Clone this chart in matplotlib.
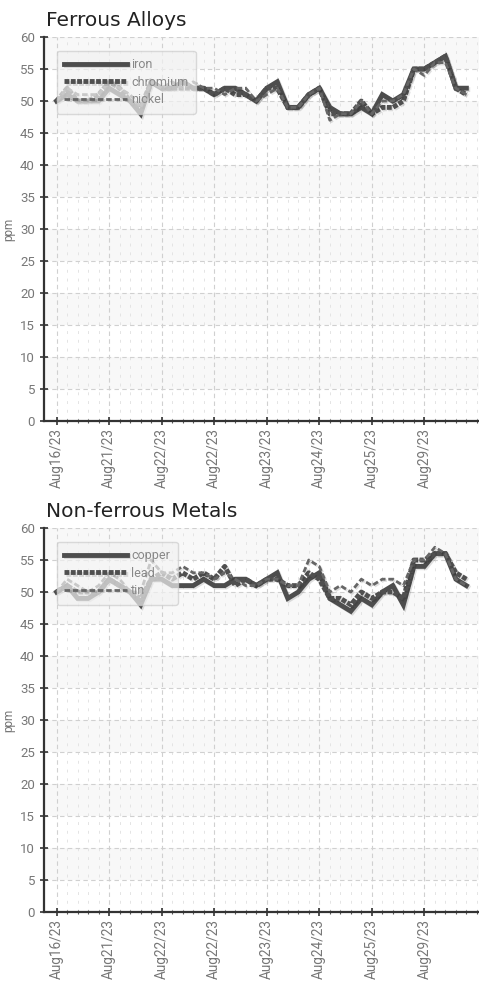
import numpy as np
import matplotlib
matplotlib.use("Agg")
from matplotlib import pyplot as plt
import matplotlib.patheffects as pe

# Data
dates = ["Aug16/23", "Aug21/23", "Aug22/23", "Aug22/23",
         "Aug23/23", "Aug24/23", "Aug25/23", "Aug29/23"]

iron = [50, 51, 50, 50, 50, 52, 51, 50, 48, 53, 52, 52, 53, 52, 52, 51, 52, 52, 51, 50,
        52, 53, 49, 49, 51, 52, 49, 48, 48, 49, 48, 51, 50, 51, 55, 55, 56, 57, 52, 52]
chromium = [50, 52, 50, 50, 51, 53, 52, 50, 49, 53, 52, 52, 52, 52, 52, 51, 52, 51, 51, 50,
            52, 52, 49, 49, 51, 52, 48, 48, 48, 50, 48, 49, 49, 50, 55, 55, 56, 57, 52, 51]
nickel = [50, 52, 51, 51, 51, 53, 52, 51, 49, 53, 52, 53, 52, 53, 52, 52, 51, 52, 52, 50,
          51, 52, 49, 49, 51, 52, 47, 48, 48, 50, 48, 50, 50, 51, 55, 54, 56, 56, 52, 51]

copper = [50, 51, 49, 49, 50, 52, 51, 50, 48, 52, 52, 51, 51, 51, 52, 51, 51, 52, 52, 51,
          52, 53, 49, 50, 52, 53, 49, 48, 47, 49, 48, 50, 51, 48, 54, 54, 56, 56, 52, 51]
lead = [50, 51, 50, 50, 50, 52, 51, 50, 49, 52, 53, 52, 53, 52, 53, 52, 54, 51, 52, 51,
        52, 52, 51, 51, 53, 52, 49, 49, 48, 50, 49, 50, 50, 49, 55, 55, 56, 56, 53, 52]
tin = [50, 52, 51, 50, 51, 53, 52, 50, 50, 55, 53, 53, 54, 53, 53, 52, 53, 52, 51, 51,
       52, 52, 51, 51, 55, 54, 50, 51, 50, 52, 51, 52, 52, 51, 55, 55, 57, 56, 52, 51]

panels = [
    ("Ferrous Alloys", [("iron", iron), ("chromium", chromium), ("nickel", nickel)]),
    ("Non-ferrous Metals", [("copper", copper), ("lead", lead), ("tin", tin)]),
]

narrow = "Roboto"

styles = [
    dict(color="#4d4d4d", lw=3.5, ls="-"),
    dict(color="#505050", lw=3.5, ls=(0, (1, 0.3))),
    dict(color="#666666", lw=2.0, ls=(0, (2, 1))),
]

fig = plt.figure(figsize=(4.79, 9.82), dpi=100)
axes_pos = [[44 / 479, 1 - 421 / 982, 435 / 479, 384 / 982],
            [44 / 479, 1 - 912 / 982, 435 / 479, 384 / 982]]

for (title, series), pos in zip(panels, axes_pos):
    ax = fig.add_axes(pos)
    n = len(series[0][1])
    x = np.arange(n)

    # alternating bands
    for lo in range(5, 60, 10):
        ax.axhspan(lo, lo + 5, color="#f8f8f8", zorder=0, lw=0)

    for (name, vals), st in zip(series, styles):
        ax.plot(x, vals, label=name, solid_joinstyle="miter", zorder=3,
                path_effects=[pe.SimpleLineShadow(offset=(1, -1), alpha=0.12),
                              pe.Normal()], **st)

    ax.set_xlim(-1.2, 40.2)
    ax.set_ylim(0, 60)
    ax.set_yticks(range(0, 61, 5))
    ax.set_xticks(range(0, 40, 5))
    ax.set_xticks(range(0, 41), minor=True)
    ax.set_xticklabels(dates, rotation=90)

    ax.grid(True, which="major", color="#d0d0d0", ls=(0, (4, 3)), lw=0.8)
    ax.grid(True, which="minor", axis="x", color="#e4e4e4", ls=(0, (3, 6)), lw=0.7)
    ax.set_axisbelow(True)

    for s in ["top", "right"]:
        ax.spines[s].set_visible(False)
    for s in ["left", "bottom"]:
        ax.spines[s].set_color("#333333")
        ax.spines[s].set_linewidth(1.6)

    ax.tick_params(axis="both", which="major", direction="inout", length=6,
                   width=1.2, color="#333333", labelcolor="#777777", labelsize=9.5)
    ax.tick_params(axis="x", which="major", labelsize=9.8, pad=2)
    ax.tick_params(axis="x", which="minor", direction="inout", length=3,
                   width=0.8, color="#555555")
    ax.tick_params(axis="y", which="minor", left=False)
    for lab in ax.get_xticklabels() + ax.get_yticklabels():
        lab.set_family(narrow)

    ax.set_ylabel("ppm", color="#777777", fontsize=8.5, family=narrow)
    ax.yaxis.set_label_coords(-0.065, 0.5)
    ax.set_title(title, loc="left", x=0.005, fontsize=14.5, color="#222222",
                 family="DejaVu Sans", pad=8)

    leg = ax.legend(loc="upper left", bbox_to_anchor=(0.015, 0.98), handlelength=5.0,
                    handletextpad=0.35, labelspacing=0.35, borderpad=0.6,
                    prop={"family": narrow, "size": 9}, framealpha=0.7,
                    facecolor="#f2f2f2", edgecolor="#cccccc", fancybox=True)
    for t in leg.get_texts():
        t.set_color("#888888")
    leg.set_zorder(5)

fig.savefig("out.png", dpi=100)
